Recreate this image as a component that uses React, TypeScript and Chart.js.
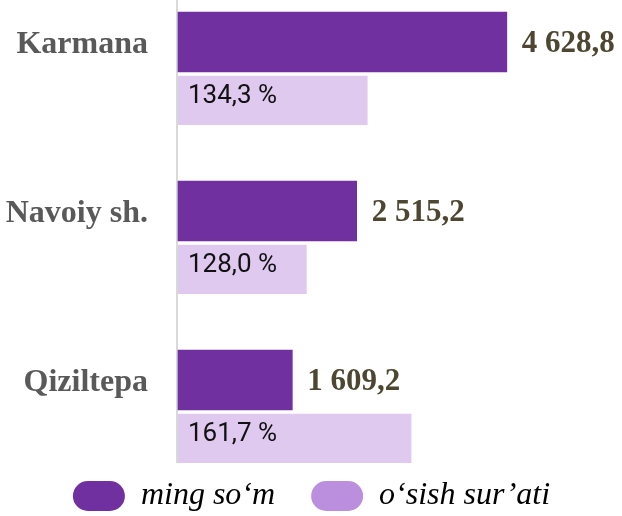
import React, { useEffect, useRef } from "react";
import { Chart, registerables } from "chart.js";

Chart.register(...registerables);

// ---- data ----
const categories = ["Karmana", "Navoiy sh.", "Qiziltepa"];
const amountValues = [4628.8, 2515.2, 1609.2]; // ming so‘m
const growthRates = [134.3, 128.0, 161.7]; // o‘sish sur’ati, %
// length of the growth bars as drawn in the source (on the amount scale)
const growthBarLengths = [2669, 1812, 3287];
const seriesNames = ["ming so\u2018m", "o\u2018sish sur\u2019ati"];
const xMax = 6250;

const barColors = ["#7030a0", "#e0c9ef"];
const legendColors = ["#7030a0", "#bb8fdd"];

const SERIF = "'Liberation Serif', 'Times New Roman', serif";

const fmtAmount = (v: number) => {
  const [i, d] = v.toFixed(1).split(".");
  return i.replace(/\B(?=(\d{3})+(?!\d))/g, " ") + "," + d;
};
const fmtRate = (v: number) => v.toFixed(1).replace(".", ",") + " %";

const labelPlugin = {
  id: "barLabels",
  beforeDatasetsDraw(chart: any) {
    const { ctx, chartArea } = chart;
    ctx.save();
    ctx.strokeStyle = "#d9d9d9";
    ctx.lineWidth = 2;
    ctx.beginPath();
    ctx.moveTo(chartArea.left - 1, chartArea.top - 72);
    ctx.lineTo(chartArea.left - 1, chartArea.bottom + 53);
    ctx.stroke();
    ctx.restore();
  },
  afterDatasetsDraw(chart: any) {
    const ctx = chart.ctx;
    const m0 = chart.getDatasetMeta(0);
    const m1 = chart.getDatasetMeta(1);
    ctx.save();
    ctx.textBaseline = "middle";
    ctx.textAlign = "left";
    ctx.font = `bold 31px ${SERIF}`;
    ctx.fillStyle = "#4d4731";
    m0.data.forEach((bar: any, i: number) => {
      ctx.fillText(fmtAmount(amountValues[i]), bar.x + 15, bar.y + 2);
    });
    ctx.font = "26px Roboto, 'Open Sans', sans-serif";
    ctx.fillStyle = "#111111";
    m1.data.forEach((bar: any, i: number) => {
      ctx.fillText(fmtRate(growthRates[i]), bar.base + 10, bar.y - 2);
    });
    ctx.restore();
  },
};

export default function App() {
  const ref = useRef<HTMLCanvasElement>(null);
  useEffect(() => {
    if (!ref.current) return;
    const chart = new Chart(ref.current, {
      type: "bar",
      data: {
        labels: categories,
        datasets: [
          {
            label: seriesNames[0],
            data: amountValues,
            backgroundColor: barColors[0],
            barThickness: 60,
            borderWidth: 0,
            clip: false as any,
          },
          {
            label: seriesNames[1],
            data: growthBarLengths,
            backgroundColor: barColors[1],
            barThickness: 53,
            borderWidth: { top: 4, right: 0, bottom: 0, left: 0 } as any,
            borderColor: "#ffffff",
            borderSkipped: false,
            clip: false as any,
          },
        ],
      },
      options: {
        indexAxis: "y",
        responsive: false,
        animation: false,
        layout: { padding: { top: 72, bottom: -6, left: 0, right: -1 } },
        scales: {
          x: {
            min: 0,
            max: xMax,
            grid: { display: false },
            border: { display: false },
            ticks: { display: false },
            afterFit: (s: any) => {
              s.height = 34;
            },
          },
          y: {
            type: "category",
            offset: false,
            grid: { display: false, drawTicks: false },
            border: { display: false },
            ticks: {
              labelOffset: -27,
              padding: 30,
              color: "#595959",
              font: { family: SERIF, weight: "bold", size: 32 },
            },
            afterFit: (s: any) => {
              s.width = 178;
            },
          },
        },
        plugins: {
          tooltip: { enabled: false },
          legend: {
            position: "bottom",
            labels: {
              boxWidth: 52,
              boxHeight: 30,
              useBorderRadius: true,
              borderRadius: 15,
              padding: 36,
              color: "#000000",
              font: { family: SERIF, style: "italic", size: 32 },
              generateLabels: () =>
                seriesNames.map((t, i) => ({
                  text: t,
                  fillStyle: legendColors[i],
                  strokeStyle: legendColors[i],
                  lineWidth: 0,
                  hidden: false,
                  datasetIndex: i,
                  borderRadius: 15,
                  fontColor: "#000000",
                })),
            },
          },
        },
      } as any,
      plugins: [labelPlugin],
    });
    return () => chart.destroy();
  }, []);
  return (
    <canvas
      ref={ref}
      width={622}
      height={516}
      style={{ position: "fixed", left: 0, top: 0, display: "block" }}
    />
  );
}
